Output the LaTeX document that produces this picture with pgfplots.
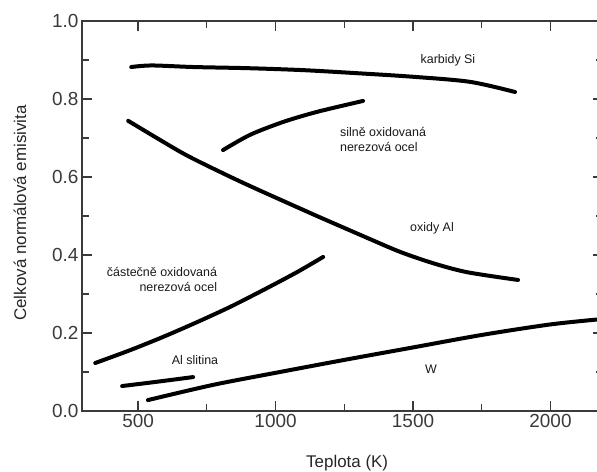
\documentclass[border=0pt]{standalone}
\usepackage{pgfplots}
\pgfplotsset{compat=1.18}
\usepackage{fontspec}
\setmainfont{Liberation Sans}
\definecolor{axgray}{HTML}{3A3A3A}
\pgfplotsset{curve/.style={black, line width=4bp, mark=none, line cap=round, smooth, tension=0.5}}
\begin{document}
\begin{tikzpicture}
\begin{axis}[
  width=521bp, height=390bp, scale only axis,
  xmin=296, xmax=2191, ymin=0, ymax=1,
  axis line style={axgray, line width=1.4pt},
  xtick={500,1000,1500,2000}, minor x tick num=1,
  ytick={0,0.2,0.4,0.6,0.8,1.0}, minor y tick num=1,
  xtick pos=both, ytick pos=both,
  tick align=inside,
  major tick length=10bp, minor tick length=7bp,
  every tick/.style={axgray, line width=1.3pt},
  tick label style={font=\fontsize{19}{22}\selectfont, text=axgray},
  /pgf/number format/assume math mode=true,
  /pgf/number format/1000 sep={},
  yticklabel style={/pgf/number format/.cd, fixed, fixed zerofill, precision=1},
  xlabel={Teplota (K)}, ylabel={Celková normálová emisivita},
  label style={font=\fontsize{17}{20}\selectfont, text=black!85},
  xlabel style={at={(axis description cs:0.509,-0.133)}, anchor=center},
  ylabel style={at={(axis description cs:-0.119,0.508)}, anchor=center},
]
% karbidy Si
\addplot[curve] coordinates {(475,0.882) (550,0.886) (700,0.882) (900,0.879) (1100,0.874) (1300,0.866) (1500,0.857) (1707,0.844) (1871,0.818)};
% oxidy Al
\addplot[curve] coordinates {(464,0.744) (580,0.695) (689,0.651) (882,0.585) (1125,0.508) (1209,0.482) (1333,0.444) (1453,0.408) (1573,0.379) (1696,0.356) (1882,0.336)};
% silne oxidovana
\addplot[curve] coordinates {(809,0.669) (907,0.708) (1027,0.741) (1151,0.767) (1318,0.795)};
% castecne oxidovana
\addplot[curve] coordinates {(344,0.123) (471,0.156) (591,0.190) (715,0.228) (835,0.267) (955,0.310) (1078,0.356) (1173,0.395)};
% Al slitina
\addplot[curve] coordinates {(442,0.064) (569,0.075) (700,0.087)};
% W
\addplot[curve] coordinates {(536,0.028) (773,0.067) (1016,0.100) (1250,0.131) (1500,0.163) (1750,0.195) (2000,0.222) (2191,0.236)};
\begin{scope}[every node/.style={font=\fontsize{12.5}{15}\selectfont, text=black!90}]
\node at (axis cs:1627,0.9) {karbidy Si};
\node[anchor=west, align=left] at (axis cs:1222,0.697) {silně oxidovaná\\nerezová ocel};
\node at (axis cs:1569,0.469) {oxidy Al};
\node[anchor=east, align=right] at (axis cs:800,0.338) {částečně oxidovaná\\nerezová ocel};
\node at (axis cs:707,0.131) {Al slitina};
\node at (axis cs:1565,0.108) {W};
\end{scope}
\end{axis}
\pgfresetboundingbox
\path[use as bounding box] (current axis.south west) ++(-82bp,-61bp) rectangle ++(597bp,472bp);
\end{tikzpicture}
\end{document}
